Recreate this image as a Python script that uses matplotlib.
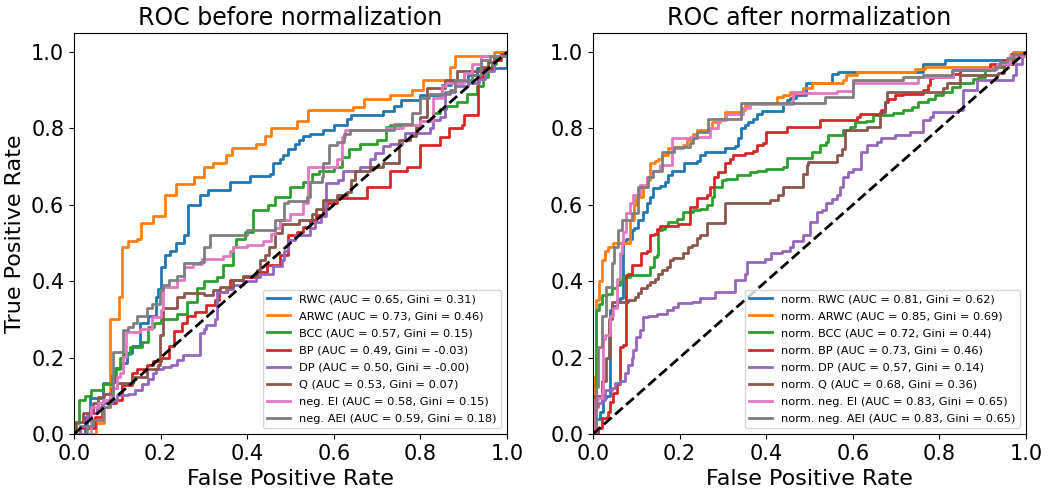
import numpy as np
import matplotlib
matplotlib.use("Agg")
import matplotlib.pyplot as plt

# ROC vertices; at each fpr the tpr steps up to the value
# --- before normalization ---
rwc_fpr = [0, 0.025, 0.038, 0.066, 0.083, 0.095, 0.11, 0.122, 0.135, 0.152, 0.17, 0.19, 0.195, 0.20, 0.21, 0.222, 0.236, 0.253, 0.264, 0.29, 0.31, 0.36, 0.406, 0.453, 0.46, 0.475, 0.483, 0.495, 0.51, 0.52, 0.53, 0.545, 0.575, 0.60, 0.63, 0.64, 0.714, 0.74, 0.755, 0.80, 0.85, 0.87, 0.91, 0.93, 1.0]
rwc_tpr = [0, 0.045, 0.094, 0.134, 0.136, 0.172, 0.185, 0.212, 0.23, 0.29, 0.31, 0.36, 0.38, 0.438, 0.47, 0.48, 0.50, 0.52, 0.60, 0.626, 0.64, 0.66, 0.675, 0.68, 0.71, 0.72, 0.73, 0.745, 0.76, 0.77, 0.78, 0.785, 0.796, 0.81, 0.826, 0.835, 0.845, 0.86, 0.874, 0.887, 0.914, 0.925, 0.94, 0.958, 1.0]

arwc_fpr = [0, 0.05, 0.07, 0.083, 0.105, 0.11, 0.125, 0.145, 0.155, 0.183, 0.21, 0.236, 0.277, 0.30, 0.32, 0.35, 0.365, 0.42, 0.44, 0.456, 0.514, 0.54, 0.645, 0.67, 0.73, 0.78, 0.806, 0.868, 0.88, 0.97, 1.0]
arwc_tpr = [0, 0.03, 0.07, 0.30, 0.36, 0.49, 0.505, 0.51, 0.553, 0.57, 0.626, 0.655, 0.674, 0.70, 0.71, 0.73, 0.748, 0.76, 0.78, 0.80, 0.82, 0.848, 0.855, 0.876, 0.887, 0.90, 0.927, 0.96, 0.99, 1.0, 1.0]

bcc_fpr = [0, 0.005, 0.012, 0.025, 0.04, 0.067, 0.087, 0.097, 0.106, 0.114, 0.13, 0.156, 0.17, 0.185, 0.20, 0.237, 0.26, 0.283, 0.30, 0.33, 0.345, 0.368, 0.375, 0.395, 0.414, 0.448, 0.465, 0.499, 0.53, 0.55, 0.565, 0.60, 0.62, 0.635, 0.66, 0.70, 0.72, 0.73, 0.80, 0.83, 0.845, 0.86, 0.885, 0.907, 0.93, 0.945, 0.956, 0.965, 0.975, 1.0]
bcc_tpr = [0, 0.03, 0.089, 0.10, 0.115, 0.13, 0.155, 0.17, 0.198, 0.21, 0.228, 0.24, 0.28, 0.29, 0.30, 0.314, 0.346, 0.382, 0.40, 0.41, 0.442, 0.49, 0.51, 0.53, 0.586, 0.60, 0.62, 0.647, 0.66, 0.68, 0.69, 0.70, 0.726, 0.745, 0.76, 0.77, 0.804, 0.81, 0.82, 0.84, 0.85, 0.86, 0.87, 0.89, 0.91, 0.935, 0.95, 0.97, 0.99, 1.0]

bp_fpr = [0, 0.015, 0.048, 0.064, 0.096, 0.11, 0.133, 0.145, 0.168, 0.183, 0.20, 0.22, 0.23, 0.25, 0.26, 0.28, 0.306, 0.325, 0.335, 0.353, 0.36, 0.39, 0.42, 0.445, 0.476, 0.494, 0.514, 0.53, 0.545, 0.56, 0.575, 0.585, 0.607, 0.676, 0.73, 0.77, 0.80, 0.845, 0.865, 0.895, 0.90, 0.933, 0.945, 0.97, 0.985, 1.0]
bp_tpr = [0, 0.015, 0.045, 0.08, 0.09, 0.128, 0.16, 0.17, 0.18, 0.19, 0.20, 0.23, 0.27, 0.29, 0.31, 0.32, 0.338, 0.35, 0.372, 0.38, 0.403, 0.41, 0.425, 0.442, 0.47, 0.52, 0.53, 0.543, 0.56, 0.573, 0.59, 0.604, 0.617, 0.647, 0.69, 0.70, 0.756, 0.778, 0.80, 0.81, 0.835, 0.935, 0.958, 0.98, 0.995, 1.0]

dp_fpr = [0, 0.014, 0.03, 0.052, 0.067, 0.087, 0.10, 0.125, 0.14, 0.156, 0.17, 0.183, 0.19, 0.205, 0.225, 0.237, 0.252, 0.29, 0.30, 0.306, 0.325, 0.33, 0.35, 0.367, 0.39, 0.42, 0.43, 0.46, 0.48, 0.485, 0.495, 0.51, 0.545, 0.556, 0.57, 0.583, 0.61, 0.622, 0.66, 0.684, 0.695, 0.714, 0.73, 0.757, 0.765, 0.822, 0.83, 0.845, 0.857, 0.88, 0.91, 0.935, 0.95, 0.97, 1.0]
dp_tpr = [0, 0.02, 0.055, 0.07, 0.08, 0.088, 0.102, 0.106, 0.115, 0.13, 0.145, 0.16, 0.17, 0.176, 0.18, 0.194, 0.207, 0.264, 0.275, 0.285, 0.302, 0.372, 0.38, 0.39, 0.40, 0.412, 0.42, 0.44, 0.455, 0.48, 0.508, 0.52, 0.54, 0.556, 0.57, 0.656, 0.665, 0.69, 0.70, 0.72, 0.735, 0.755, 0.76, 0.77, 0.787, 0.80, 0.822, 0.83, 0.896, 0.91, 0.92, 0.93, 0.95, 0.99, 1.0]

q_fpr = [0, 0.002, 0.02, 0.044, 0.055, 0.07, 0.087, 0.10, 0.137, 0.168, 0.194, 0.198, 0.206, 0.237, 0.255, 0.30, 0.32, 0.337, 0.368, 0.39, 0.422, 0.43, 0.44, 0.45, 0.464, 0.48, 0.52, 0.55, 0.56, 0.575, 0.607, 0.63, 0.64, 0.65, 0.684, 0.714, 0.75, 0.776, 0.79, 0.80, 0.815, 0.857, 0.885, 0.94, 0.955, 0.97, 1.0]
q_tpr = [0, 0.032, 0.055, 0.08, 0.098, 0.106, 0.12, 0.134, 0.15, 0.17, 0.18, 0.26, 0.33, 0.36, 0.37, 0.364, 0.377, 0.385, 0.403, 0.415, 0.43, 0.455, 0.47, 0.49, 0.526, 0.55, 0.56, 0.575, 0.59, 0.613, 0.625, 0.635, 0.665, 0.69, 0.70, 0.71, 0.77, 0.78, 0.804, 0.83, 0.905, 0.927, 0.95, 0.96, 0.975, 0.99, 1.0]

ei_fpr = [0, 0.04, 0.055, 0.067, 0.083, 0.09, 0.10, 0.106, 0.113, 0.12, 0.152, 0.18, 0.20, 0.205, 0.237, 0.255, 0.275, 0.295, 0.345, 0.36, 0.368, 0.40, 0.437, 0.455, 0.465, 0.476, 0.50, 0.53, 0.54, 0.607, 0.62, 0.625, 0.72, 0.76, 0.80, 0.83, 0.85, 0.86, 0.90, 0.92, 0.94, 1.0]
ei_tpr = [0, 0.07, 0.08, 0.09, 0.10, 0.12, 0.15, 0.16, 0.202, 0.268, 0.275, 0.307, 0.325, 0.386, 0.403, 0.438, 0.445, 0.458, 0.465, 0.48, 0.49, 0.495, 0.505, 0.525, 0.54, 0.56, 0.575, 0.604, 0.70, 0.72, 0.778, 0.796, 0.80, 0.81, 0.82, 0.88, 0.91, 0.92, 0.945, 0.97, 0.99, 1.0]

aei_fpr = [0, 0.03, 0.044, 0.067, 0.083, 0.09, 0.114, 0.125, 0.137, 0.145, 0.168, 0.18, 0.198, 0.206, 0.22, 0.237, 0.255, 0.29, 0.30, 0.314, 0.40, 0.464, 0.485, 0.495, 0.537, 0.545, 0.572, 0.575, 0.59, 0.607, 0.623, 0.637, 0.74, 0.78, 0.80, 0.82, 0.868, 0.88, 0.92, 0.94, 0.96, 1.0]
aei_tpr = [0, 0.02, 0.037, 0.07, 0.09, 0.215, 0.272, 0.28, 0.29, 0.31, 0.33, 0.34, 0.377, 0.39, 0.403, 0.415, 0.447, 0.45, 0.49, 0.52, 0.535, 0.56, 0.604, 0.61, 0.62, 0.66, 0.674, 0.709, 0.757, 0.765, 0.785, 0.796, 0.813, 0.84, 0.879, 0.89, 0.90, 0.927, 0.94, 0.98, 0.99, 1.0]

# --- after normalization ---
nrwc_fpr = [0, 0.0, 0.016, 0.022, 0.03, 0.039, 0.045, 0.055, 0.062, 0.07, 0.077, 0.089, 0.095, 0.105, 0.116, 0.124, 0.132, 0.139, 0.155, 0.166, 0.174, 0.182, 0.21, 0.24, 0.247, 0.258, 0.305, 0.328, 0.335, 0.343, 0.35, 0.357, 0.37, 0.378, 0.39, 0.44, 0.447, 0.455, 0.47, 0.493, 0.551, 0.565, 0.763, 0.813, 0.97, 1.0]
nrwc_tpr = [0, 0.04, 0.058, 0.093, 0.10, 0.325, 0.335, 0.35, 0.355, 0.50, 0.51, 0.534, 0.54, 0.56, 0.582, 0.604, 0.62, 0.643, 0.65, 0.66, 0.678, 0.69, 0.709, 0.716, 0.73, 0.739, 0.748, 0.755, 0.774, 0.80, 0.81, 0.817, 0.826, 0.839, 0.845, 0.866, 0.874, 0.88, 0.887, 0.918, 0.944, 0.948, 0.97, 0.98, 1.0, 1.0]

narwc_fpr = [0, 0.002, 0.008, 0.014, 0.02, 0.027, 0.035, 0.047, 0.085, 0.095, 0.10, 0.116, 0.124, 0.132, 0.143, 0.15, 0.159, 0.174, 0.209, 0.216, 0.232, 0.24, 0.266, 0.274, 0.293, 0.305, 0.343, 0.35, 0.363, 0.424, 0.44, 0.455, 0.486, 0.505, 0.578, 0.585, 0.609, 0.744, 0.767, 0.932, 0.97, 1.0]
narwc_tpr = [0, 0.15, 0.35, 0.40, 0.455, 0.48, 0.49, 0.50, 0.56, 0.60, 0.62, 0.647, 0.664, 0.709, 0.714, 0.72, 0.73, 0.748, 0.757, 0.77, 0.785, 0.796, 0.80, 0.818, 0.826, 0.844, 0.848, 0.861, 0.866, 0.883, 0.887, 0.896, 0.905, 0.918, 0.927, 0.94, 0.948, 0.957, 0.962, 0.97, 1.0, 1.0]

nbcc_fpr = [0, 0.0, 0.006, 0.015, 0.02, 0.032, 0.043, 0.055, 0.062, 0.068, 0.085, 0.132, 0.14, 0.147, 0.151, 0.159, 0.166, 0.174, 0.193, 0.209, 0.232, 0.247, 0.263, 0.274, 0.28, 0.297, 0.308, 0.332, 0.363, 0.378, 0.40, 0.44, 0.447, 0.505, 0.524, 0.539, 0.543, 0.578, 0.593, 0.605, 0.63, 0.647, 0.693, 0.716, 0.736, 0.75, 0.774, 0.79, 0.809, 0.828, 0.847, 0.878, 0.89, 0.905, 0.928, 0.947, 0.96, 0.975, 1.0]
nbcc_tpr = [0, 0.07, 0.325, 0.34, 0.364, 0.366, 0.381, 0.39, 0.40, 0.412, 0.417, 0.438, 0.464, 0.47, 0.534, 0.538, 0.545, 0.556, 0.564, 0.582, 0.586, 0.59, 0.60, 0.621, 0.647, 0.665, 0.668, 0.678, 0.687, 0.69, 0.695, 0.70, 0.722, 0.739, 0.757, 0.765, 0.783, 0.796, 0.805, 0.818, 0.82, 0.835, 0.84, 0.848, 0.857, 0.87, 0.878, 0.887, 0.896, 0.909, 0.918, 0.93, 0.935, 0.957, 0.962, 0.979, 0.985, 0.995, 1.0]

nbp_fpr = [0, 0.012, 0.02, 0.032, 0.035, 0.04, 0.047, 0.055, 0.062, 0.07, 0.076, 0.081, 0.089, 0.112, 0.124, 0.132, 0.14, 0.147, 0.155, 0.197, 0.224, 0.24, 0.263, 0.27, 0.28, 0.289, 0.305, 0.316, 0.324, 0.351, 0.37, 0.378, 0.393, 0.40, 0.447, 0.524, 0.609, 0.616, 0.666, 0.675, 0.682, 0.697, 0.716, 0.763, 0.774, 0.778, 0.786, 0.832, 0.847, 0.917, 0.947, 0.965, 1.0]
nbp_tpr = [0, 0.015, 0.041, 0.045, 0.058, 0.085, 0.107, 0.13, 0.228, 0.232, 0.416, 0.42, 0.442, 0.473, 0.478, 0.521, 0.525, 0.538, 0.545, 0.551, 0.595, 0.617, 0.625, 0.647, 0.674, 0.685, 0.709, 0.72, 0.73, 0.737, 0.742, 0.757, 0.761, 0.791, 0.804, 0.822, 0.83, 0.839, 0.848, 0.87, 0.878, 0.887, 0.89, 0.90, 0.914, 0.931, 0.935, 0.944, 0.953, 0.97, 0.979, 0.995, 1.0]

ndp_fpr = [0, 0.004, 0.012, 0.02, 0.028, 0.043, 0.051, 0.062, 0.074, 0.081, 0.089, 0.093, 0.10, 0.108, 0.116, 0.128, 0.147, 0.17, 0.185, 0.197, 0.228, 0.247, 0.282, 0.328, 0.351, 0.355, 0.397, 0.412, 0.436, 0.455, 0.462, 0.486, 0.501, 0.517, 0.528, 0.539, 0.551, 0.563, 0.57, 0.578, 0.59, 0.601, 0.62, 0.632, 0.655, 0.666, 0.697, 0.732, 0.763, 0.778, 0.786, 0.844, 0.855, 0.886, 0.971, 0.978, 0.99, 1.0]
ndp_tpr = [0, 0.07, 0.08, 0.09, 0.115, 0.12, 0.133, 0.138, 0.159, 0.181, 0.20, 0.22, 0.255, 0.272, 0.307, 0.31, 0.315, 0.325, 0.333, 0.342, 0.346, 0.355, 0.372, 0.403, 0.42, 0.451, 0.458, 0.473, 0.478, 0.49, 0.505, 0.52, 0.556, 0.582, 0.586, 0.604, 0.616, 0.626, 0.647, 0.674, 0.685, 0.695, 0.739, 0.757, 0.765, 0.774, 0.783, 0.791, 0.822, 0.83, 0.844, 0.848, 0.90, 0.927, 0.94, 0.97, 0.995, 1.0]

nq_fpr = [0, 0.0, 0.02, 0.03, 0.038, 0.043, 0.082, 0.097, 0.105, 0.112, 0.124, 0.132, 0.143, 0.151, 0.159, 0.17, 0.178, 0.185, 0.209, 0.22, 0.228, 0.24, 0.247, 0.264, 0.305, 0.409, 0.428, 0.44, 0.486, 0.494, 0.497, 0.563, 0.575, 0.582, 0.632, 0.663, 0.674, 0.678, 0.809, 0.817, 0.848, 0.936, 0.95, 0.97, 1.0]
nq_tpr = [0, 0.10, 0.14, 0.20, 0.30, 0.346, 0.352, 0.36, 0.369, 0.381, 0.39, 0.399, 0.407, 0.42, 0.43, 0.438, 0.455, 0.46, 0.473, 0.49, 0.495, 0.512, 0.52, 0.553, 0.604, 0.613, 0.626, 0.647, 0.682, 0.704, 0.713, 0.73, 0.745, 0.796, 0.804, 0.844, 0.87, 0.896, 0.905, 0.918, 0.94, 0.945, 0.97, 0.99, 1.0]

nei_fpr = [0, 0.0, 0.012, 0.02, 0.024, 0.028, 0.039, 0.047, 0.055, 0.062, 0.066, 0.07, 0.077, 0.085, 0.093, 0.108, 0.124, 0.136, 0.155, 0.182, 0.224, 0.27, 0.289, 0.308, 0.347, 0.363, 0.463, 0.563, 0.601, 0.751, 0.832, 0.932, 0.963, 1.0]
nei_tpr = [0, 0.089, 0.095, 0.11, 0.25, 0.26, 0.31, 0.33, 0.407, 0.473, 0.503, 0.53, 0.578, 0.604, 0.626, 0.652, 0.674, 0.69, 0.705, 0.774, 0.778, 0.80, 0.822, 0.839, 0.853, 0.864, 0.892, 0.897, 0.918, 0.935, 0.957, 0.97, 0.99, 1.0]

naei_fpr = [0, 0.008, 0.012, 0.02, 0.03, 0.043, 0.048, 0.058, 0.066, 0.089, 0.105, 0.128, 0.139, 0.159, 0.186, 0.224, 0.232, 0.24, 0.266, 0.343, 0.536, 0.601, 0.716, 0.763, 0.828, 0.928, 0.94, 0.955, 0.97, 1.0]
naei_tpr = [0, 0.124, 0.228, 0.31, 0.386, 0.447, 0.49, 0.534, 0.56, 0.578, 0.647, 0.674, 0.69, 0.739, 0.752, 0.761, 0.774, 0.791, 0.826, 0.866, 0.883, 0.927, 0.935, 0.94, 0.953, 0.96, 0.975, 0.985, 0.995, 1.0]

names = ["RWC", "ARWC", "BCC", "BP", "DP", "Q", "neg. EI", "neg. AEI"]
auc_before = [0.65, 0.73, 0.57, 0.49, 0.50, 0.53, 0.58, 0.59]
gini_before = ["0.31", "0.46", "0.15", "-0.03", "-0.00", "0.07", "0.15", "0.18"]
auc_after = [0.81, 0.85, 0.72, 0.73, 0.57, 0.68, 0.83, 0.83]
gini_after = ["0.62", "0.69", "0.44", "0.46", "0.14", "0.36", "0.65", "0.65"]

before = [(rwc_fpr, rwc_tpr), (arwc_fpr, arwc_tpr), (bcc_fpr, bcc_tpr), (bp_fpr, bp_tpr),
          (dp_fpr, dp_tpr), (q_fpr, q_tpr), (ei_fpr, ei_tpr), (aei_fpr, aei_tpr)]
after = [(nrwc_fpr, nrwc_tpr), (narwc_fpr, narwc_tpr), (nbcc_fpr, nbcc_tpr), (nbp_fpr, nbp_tpr),
         (ndp_fpr, ndp_tpr), (nq_fpr, nq_tpr), (nei_fpr, nei_tpr), (naei_fpr, naei_tpr)]

fig = plt.figure(figsize=(10.51, 4.93), dpi=100)
ax1 = fig.add_axes([0.0704, 0.1197, 0.412, 0.8133])
ax2 = fig.add_axes([0.5642, 0.1197, 0.412, 0.8133])

panels = [
    (ax1, before, "", auc_before, gini_before, "ROC before normalization"),
    (ax2, after, "norm. ", auc_after, gini_after, "ROC after normalization"),
]

for ax, curves, prefix, aucs, ginis, title in panels:
    for i, (fpr, tpr) in enumerate(curves):
        lab = f"{prefix}{names[i]} (AUC = {aucs[i]:.2f}, Gini = {ginis[i]})"
        ax.plot(fpr, tpr, drawstyle="steps-post", lw=2, color=f"C{i}", label=lab)
    ax.plot([0, 1], [0, 1], "k--", lw=2)
    ax.set_xlim(0.0, 1.0)
    ax.set_ylim(0.0, 1.05)
    ax.set_title(title, fontsize=17)
    ax.set_xlabel("False Positive Rate", fontsize=16)
    ax.tick_params(labelsize=15)
    ax.legend(loc="lower right", fontsize=8.2, labelspacing=0.62)

ax1.set_ylabel("True Positive Rate", fontsize=16)

fig.savefig("out.png", dpi=100)
